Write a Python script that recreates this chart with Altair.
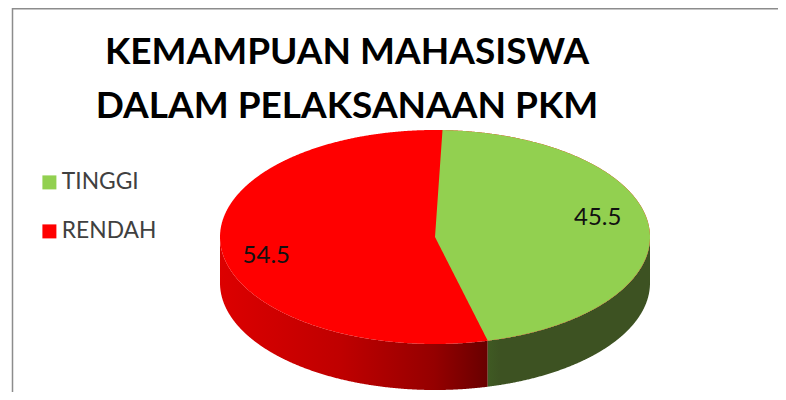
import numpy as np
import pandas as pd
import altair as alt

# Chart values
categories = ["TINGGI", "RENDAH"]
values = [45.5, 54.5]
colors = ["#92d050", "#ff0000"]
title_lines = ["KEMAMPUAN MAHASISWA", "DALAM PELAKSANAAN PKM"]

# Layout
W, H = 770, 384
CX, CY = 427, 229      # pie centre in the plot area
A, B = 215, 107        # ellipse radii, px
DEPTH = 46 / B         # wall height in y units
START = 2.0            # rotation of the first slice, degrees clockwise from top
FONT = "Lato"

x_scale = alt.Scale(domain=[-CX / A, (W - CX) / A], range=[0, W], nice=False, zero=False)
y_scale = alt.Scale(domain=[(CY - H) / B, CY / B], range=[H, 0], nice=False, zero=False)
color_scale = alt.Scale(domain=categories, range=colors)

t0 = np.radians(START)
t1 = t0 + np.radians(360 * values[0] / sum(values))
x0, x1 = np.sin(t0), np.sin(t1)


def curve(lo, hi):
    phi = np.linspace(-np.pi / 2, np.pi / 2, 721)
    xs = np.sin(phi)
    xs = xs[(xs > lo) & (xs < hi)]
    return np.concatenate([[lo], xs, [hi]])


def xy():
    return dict(
        x=alt.X("x:Q", scale=x_scale, axis=None),
        y=alt.Y("y:Q", scale=y_scale, axis=None),
        y2=alt.Y2("y2:Q"),
    )


# Full top ellipse (second category)
xs = curve(-1, 1)
rim = np.sqrt(np.clip(1 - xs**2, 0, 1))
ellipse = pd.DataFrame({"x": xs, "y": rim, "y2": -rim, "cat": categories[1]})

# Wedge of the first category on top of it
xs = np.unique(np.concatenate([[0, x0, x1], curve(0, 1)]))
rim = np.sqrt(np.clip(1 - xs**2, 0, 1))
upper = np.where(xs < x0, xs * np.cos(t0) / x0, rim)
lower = np.where(xs < x1, xs * np.cos(t1) / x1, -rim)
wedge = pd.DataFrame({"x": xs, "y": upper, "y2": lower, "cat": categories[0]})


def wall(lo, hi):
    xs = curve(lo, hi)
    rim = -np.sqrt(np.clip(1 - xs**2, 0, 1))
    return pd.DataFrame({"x": xs, "y": rim, "y2": rim - DEPTH})


def grad(*stops):
    return alt.Gradient(
        gradient="linear", x1=0, x2=1, y1=0, y2=0,
        stops=[alt.GradientStop(color=c, offset=o) for o, c in stops],
    )


red_wall = alt.Chart(wall(-1, x1)).mark_area(
    fill=grad((0, "#dc0000"), (0.45, "#bf0000"), (0.8, "#950000"), (1, "#680000"))
).encode(**xy())
green_wall = alt.Chart(wall(x1, 1)).mark_area(
    fill=grad((0, "#3f5a23"), (0.08, "#3d5222"), (1, "#3d5222"))
).encode(**xy())

legend = alt.Legend(
    orient="none", legendX=30, legendY=163, title=None,
    symbolType="square", symbolSize=196, symbolStrokeWidth=0,
    labelFont=FONT, labelFontSize=22.8, labelColor="#404040",
    labelOffset=1, rowPadding=25, padding=0, symbolOpacity=1,
)
color_enc = alt.Color("cat:N", scale=color_scale, legend=legend)

top_red = alt.Chart(ellipse).mark_area(opacity=1).encode(color=color_enc, **xy())
top_green = alt.Chart(wedge).mark_area(opacity=1).encode(color=color_enc, **xy())

# Value labels placed from each slice's mid-angle
mid = [t0 + (t1 - t0) / 2, t1 + (2 * np.pi + t0 - t1) / 2]
LABEL_RX, LABEL_RY = 0.775, 1.7
labels = pd.DataFrame({
    "x": [LABEL_RX * np.sin(m) for m in mid],
    "y": [LABEL_RY * np.cos(m) for m in mid],
    "v": [f"{v:.1f}" for v in values],
})
text = alt.Chart(labels).mark_text(
    font=FONT, fontSize=24, color="#111111", align="center", baseline="middle", dx=-3
).encode(
    x=alt.X("x:Q", scale=x_scale, axis=None),
    y=alt.Y("y:Q", scale=y_scale, axis=None),
    text="v:N",
)

# Outer frame
frame_src = pd.DataFrame({"k": [0]})
frame_left = alt.Chart(frame_src).mark_rule(color="#8c8c8c", strokeWidth=1.5).encode(
    x=alt.value(4.5), y=alt.value(0), y2=alt.value(H)
)
frame_top = alt.Chart(frame_src).mark_rule(color="#8c8c8c", strokeWidth=1.5).encode(
    x=alt.value(4.5), x2=alt.value(W), y=alt.value(0.75)
)

chart = alt.layer(
    frame_left, frame_top, red_wall, green_wall, top_red, top_green, text
).properties(
    width=W, height=H, padding=0,
    autosize=alt.AutoSizeParams(type="none"),
    title=alt.TitleParams(
        text=title_lines, font=FONT, fontSize=37, fontWeight="bold", color="#000000",
        anchor="middle", frame="group", dx=-46, offset=-119, lineHeight=54,
    ),
).configure_view(stroke=None)

chart.save("out.html", embed_options={"renderer": "svg", "actions": False})
